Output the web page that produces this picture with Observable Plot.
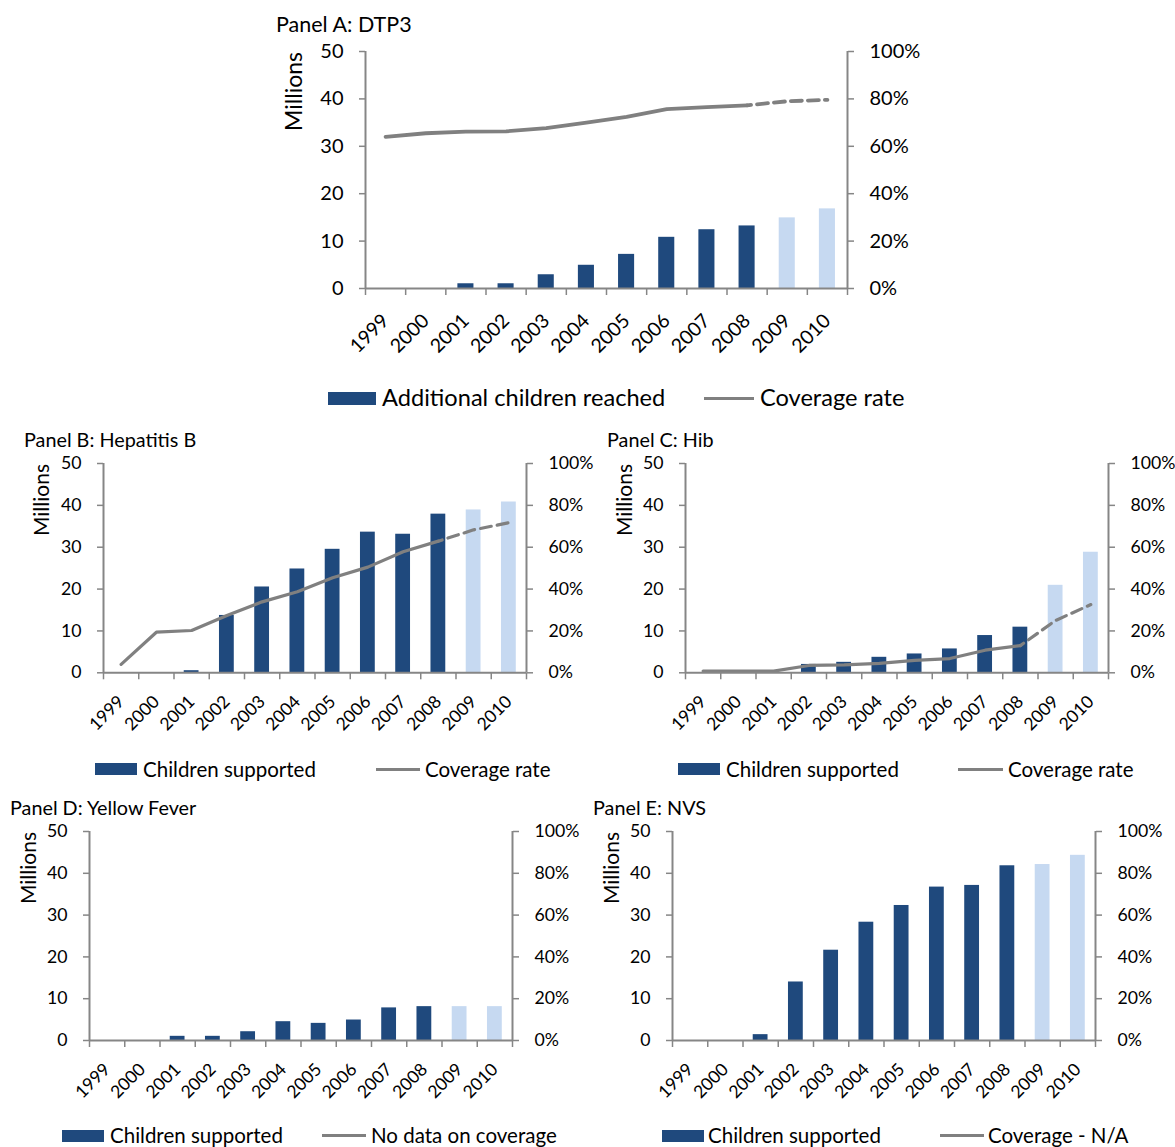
<!DOCTYPE html>
<html>
<head>
<meta charset="utf-8">
<script src="https://cdn.jsdelivr.net/npm/d3@7"></script>
<script src="https://cdn.jsdelivr.net/npm/@observablehq/plot@0.6"></script>
<style>
  body { margin: 0; background: #fff; }
  #root { position: relative; width: 1175px; height: 1147px; overflow: hidden; font-family: Lato, "Noto Sans", sans-serif; color: #000; }
  .abs { position: absolute; white-space: nowrap; line-height: 1; }
  .vlabel { position: absolute; writing-mode: vertical-rl; transform: rotate(180deg); white-space: nowrap; line-height: 1; }
  .swatch { position: absolute; }
</style>
</head>
<body>
<div id="root"></div>
<script>
// ---------- data ----------
const years = [1999, 2000, 2001, 2002, 2003, 2004, 2005, 2006, 2007, 2008, 2009, 2010];
const firstProjectedYear = 2009;

const dtp3Children  = [0, 0, 1.0, 1.0, 2.9, 4.9, 7.2, 10.8, 12.4, 13.2, 14.9, 16.8];
const dtp3Coverage  = [64, 65.5, 66.2, 66.3, 67.7, 70, 72.4, 75.7, 76.5, 77.3, 79, 79.6];

const hepbChildren  = [0, 0, 0.5, 13.7, 20.5, 24.8, 29.5, 33.6, 33.1, 37.9, 38.9, 40.8];
const hepbCoverage  = [4, 19.4, 20.2, 27.4, 33.9, 38.7, 45.4, 50.5, 57.8, 62.9, 68.3, 71.7];

const hibChildren   = [0, 0, 0, 2.0, 2.5, 3.7, 4.5, 5.7, 8.9, 10.9, 20.9, 28.8];
const hibCoverage   = [0.8, 0.8, 0.8, 3.5, 3.8, 4.5, 5.9, 6.8, 10.8, 13, 25, 32.6];

const yfChildren    = [0, 0, 1.0, 1.0, 2.1, 4.5, 4.1, 4.9, 7.8, 8.1, 8.1, 8.1];
const nvsChildren   = [0, 0, 1.4, 14.0, 21.6, 28.3, 32.3, 36.7, 37.1, 41.8, 42.1, 44.3];

const leftTicks  = [0, 10, 20, 30, 40, 50];
const rightTickLabels = ["0%", "20%", "40%", "60%", "80%", "100%"];

const panelTitles = ["Panel A: DTP3", "Panel B: Hepatitis B", "Panel C: Hib", "Panel D: Yellow Fever", "Panel E: NVS"];
const yAxisTitle = "Millions";
const barLegendLabels = ["Additional children reached", "Children supported", "Children supported", "Children supported", "Children supported"];
const lineLegendLabels = ["Coverage rate", "Coverage rate", "Coverage rate", "No data on coverage", "Coverage - N/A"];

// ---------- styles / layout ----------
const DARK = "#1F497D";
const LIGHT = "#C6D9F1";
const LINE = "#808080";
const AXIS = "#868686";
const FONT = 'Lato, "Noto Sans", sans-serif';

const layouts = [
  {L: 364.5, R: 846.5, T: 50.5, B: 287.5, tick: 20, year: 19.5, title: 21.5, ylab: 23, legend: 23.6, yearPad: 29,
   titleX: 276, titleY: 25, ylabX: 293, legY: 398, sw: [328, 376], tx1: 382, ln: [704, 754], tx2: 760, swH: 13},
  {L: 102.5, R: 525.5, T: 463, B: 672.3, tick: 17.7, year: 17.5, title: 19.8, ylab: 21, legend: 20.5, yearPad: 26,
   titleX: 24, titleY: 440, ylabX: 40, legY: 769, sw: [95, 137], tx1: 143, ln: [376, 420], tx2: 425, swH: 12},
  {L: 685, R: 1108, T: 463, B: 672.3, tick: 17.7, year: 17.5, title: 19.8, ylab: 21, legend: 20.5, yearPad: 26,
   titleX: 607, titleY: 440, ylabX: 623, legY: 769, sw: [678, 720], tx1: 726, ln: [958, 1003], tx2: 1008, swH: 12},
  {L: 88.5, R: 511.5, T: 831, B: 1040, tick: 17.7, year: 17.5, title: 19.8, ylab: 21, legend: 20.5, yearPad: 26,
   titleX: 10, titleY: 808, ylabX: 27, legY: 1135.5, sw: [62, 104], tx1: 110, ln: [322, 366], tx2: 371, swH: 12},
  {L: 671.5, R: 1094.5, T: 831, B: 1040, tick: 17.7, year: 17.5, title: 19.8, ylab: 21, legend: 20.5, yearPad: 26,
   titleX: 593, titleY: 808, ylabX: 610, legY: 1135.5, sw: [662, 704], tx1: 708, ln: [940, 984], tx2: 988, swH: 12}
];

const panels = [
  {children: dtp3Children, coverage: dtp3Coverage},
  {children: hepbChildren, coverage: hepbCoverage},
  {children: hibChildren,  coverage: hibCoverage},
  {children: yfChildren,   coverage: null},
  {children: nvsChildren,  coverage: null}
];

const root = document.getElementById("root");
const boundaries = years.map(y => y - 0.5).concat([years[years.length - 1] + 0.5]);
const xDomain = [boundaries[0], boundaries[boundaries.length - 1]];

function addText(txt, x, y, size, cls = "abs") {
  const d = document.createElement("div");
  d.className = cls;
  d.textContent = txt;
  d.style.left = x + "px";
  d.style.top = (y - size / 2) + "px";
  d.style.fontSize = size + "px";
  root.appendChild(d);
  return d;
}

panels.forEach((p, k) => {
  const lay = layouts[k];
  const mL = 100, mR = 100, mT = 14, mB = 100;
  const width = (lay.R - lay.L) + mL + mR;
  const height = (lay.B - lay.T) + mT + mB;
  const rows = years.map((year, i) => ({
    year,
    value: p.children[i],
    cov: p.coverage ? p.coverage[i] : null,
    projected: year >= firstProjectedYear
  }));
  const half = k === 0 ? 0.2 : 0.21;
  const marks = [
    Plot.rect(rows.filter(d => !d.projected), {x1: d => d.year - half, x2: d => d.year + half, y1: 0, y2: "value", fill: DARK}),
    Plot.rect(rows.filter(d => d.projected), {x1: d => d.year - half, x2: d => d.year + half, y1: 0, y2: "value", fill: LIGHT}),
  ];
  if (p.coverage) {
    const sw = k === 0 ? 3.8 : 3.2;
    marks.push(
      Plot.line(rows.filter(d => d.year < firstProjectedYear), {x: "year", y: d => d.cov / 2, stroke: LINE, strokeWidth: sw, strokeLinejoin: "round"}),
      Plot.line(rows.filter(d => d.year >= firstProjectedYear - 1), {x: "year", y: d => d.cov / 2, stroke: LINE, strokeWidth: sw, strokeDasharray: "11,6", strokeDashoffset: -10})
    );
  }
  marks.push(
    Plot.ruleY([0], {stroke: AXIS, strokeWidth: 2}),
    Plot.ruleX([xDomain[0], xDomain[1]], {stroke: AXIS, strokeWidth: 2}),
    Plot.axisY({anchor: "left", ticks: leftTicks, tickSize: 6, tickPadding: 16, stroke: AXIS, strokeWidth: 1.5, tickFormat: d => String(d), label: null, fontSize: lay.tick}),
    Plot.axisY({anchor: "right", ticks: leftTicks, tickSize: 6, tickPadding: 16, stroke: AXIS, strokeWidth: 1.5, tickFormat: d => rightTickLabels[leftTicks.indexOf(d)], label: null, fontSize: lay.tick}),
    Plot.axisX({ticks: boundaries, tickSize: 7, stroke: AXIS, strokeWidth: 1.5, tickFormat: () => "", label: null}),
    Plot.axisX({ticks: years, tickSize: 0, tickPadding: lay.yearPad, tickRotate: -45, tickFormat: d => String(d), label: null, fontSize: lay.year})
  );
  const chart = Plot.plot({
    width, height,
    marginLeft: mL, marginRight: mR, marginTop: mT, marginBottom: mB,
    style: {background: "transparent", overflow: "visible", fontFamily: FONT, color: "#000"},
    x: {type: "linear", domain: xDomain},
    y: {domain: [0, 50]},
    marks
  });
  const wrap = document.createElement("div");
  wrap.style.position = "absolute";
  wrap.style.left = (lay.L - mL) + "px";
  wrap.style.top = (lay.T - mT) + "px";
  wrap.style.width = width + "px";
  wrap.style.height = height + "px";
  chart.style.maxWidth = "none";
  wrap.appendChild(chart);
  root.appendChild(wrap);

  // title
  addText(panelTitles[k], lay.titleX, lay.titleY, lay.title);
  // y axis title (rotated, end aligned with top of axis)
  const v = document.createElement("div");
  v.className = "vlabel";
  v.textContent = yAxisTitle;
  v.style.fontSize = lay.ylab + "px";
  v.style.left = (lay.ylabX - lay.ylab / 2) + "px";
  v.style.top = (lay.T + 1) + "px";
  root.appendChild(v);

  // legend
  const sw = document.createElement("div");
  sw.className = "swatch";
  sw.style.left = lay.sw[0] + "px";
  sw.style.width = (lay.sw[1] - lay.sw[0]) + "px";
  sw.style.top = (lay.legY - lay.swH / 2) + "px";
  sw.style.height = lay.swH + "px";
  sw.style.background = DARK;
  root.appendChild(sw);
  addText(barLegendLabels[k], lay.tx1, lay.legY, lay.legend);
  const ln = document.createElement("div");
  ln.className = "swatch";
  ln.style.left = lay.ln[0] + "px";
  ln.style.width = (lay.ln[1] - lay.ln[0]) + "px";
  ln.style.top = (lay.legY - 1.5) + "px";
  ln.style.height = "3px";
  ln.style.background = LINE;
  root.appendChild(ln);
  addText(lineLegendLabels[k], lay.tx2, lay.legY, lay.legend);
});
</script>
</body>
</html>
